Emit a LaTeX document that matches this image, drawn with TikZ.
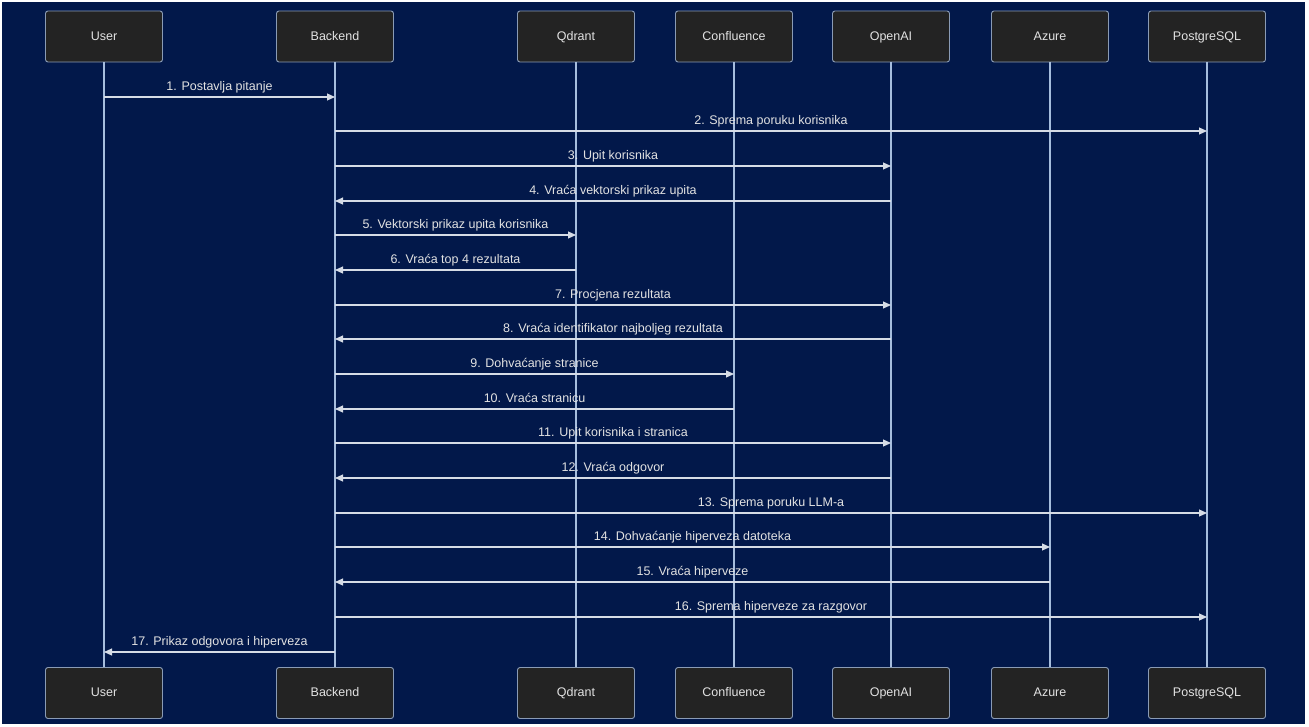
\documentclass[tikz,border=0pt]{standalone}
\usepackage{fontspec}
\setmainfont{Liberation Sans}
\usetikzlibrary{arrows.meta,calc}
\definecolor{bgnavy}{HTML}{02184A}
\definecolor{boxfill}{HTML}{232323}
\definecolor{boxline}{HTML}{8A9BB5}
\definecolor{lifecol}{HTML}{A6BDDD}
\definecolor{msgcol}{HTML}{D6DCE6}
\definecolor{txtcol}{HTML}{E2E2E2}
\tikzset{
  actor/.style={draw=boxline, fill=boxfill, rounded corners=2.5pt, line width=0.9pt,
    minimum width=117pt, minimum height=51pt, inner sep=0pt,
    text height=9.5pt, text depth=2.5pt,
    text=txtcol, font=\fontsize{12.5}{14}\selectfont},
  lifeline/.style={draw=lifecol, line width=1.1pt},
  msg/.style={draw=msgcol, line width=1.1pt, -{Triangle[length=8pt,width=7pt]}},
  lbl/.style={text=txtcol, font=\fontsize{12.5}{14}\selectfont, inner sep=0pt, anchor=base}
}
\newcommand{\msgline}[4]{%
  \coordinate (m#3a) at (#1top |- 0,#3);
  \coordinate (m#3b) at (#2top |- 0,#3);
  \draw[msg] (m#3a) -- (m#3b);
  \node[lbl] (l#3) at ($(m#3a)!0.5!(m#3b)+(0,-7)$) {#4};
}
\begin{document}
\begin{tikzpicture}[x=1pt,y=-1pt]
\useasboundingbox (0,0) rectangle (1309,726);
\fill[white] (0,0) rectangle (1309,726);
\fill[bgnavy] (2,2) rectangle (1305,724);
% actors
\foreach \n/\t/\x in {u/User/104, b/Backend/335, q/Qdrant/576, c/Confluence/734, o/OpenAI/891, a/Azure/1050, p/PostgreSQL/1207}{
  \node[actor] (\n top) at (\x,36.5) {\t};
  \node[actor] (\n bot) at (\x,693) {\t};
  \draw[lifeline] (\n top.south) -- (\n bot.north);
}
% messages
\msgline{u}{b}{97}{1. Postavlja pitanje}
\msgline{b}{p}{131}{2. Sprema poruku korisnika}
\msgline{b}{o}{166}{3. Upit korisnika}
\msgline{o}{b}{201}{4. Vraća vektorski prikaz upita}
\msgline{b}{q}{235}{5. Vektorski prikaz upita korisnika}
\msgline{q}{b}{270}{6. Vraća top 4 rezultata}
\msgline{b}{o}{305}{7. Procjena rezultata}
\msgline{o}{b}{339}{8. Vraća identifikator najboljeg rezultata}
\msgline{b}{c}{374}{9. Dohvaćanje stranice}
\msgline{c}{b}{409}{10. Vraća stranicu}
\msgline{b}{o}{443}{11. Upit korisnika i stranica}
\msgline{o}{b}{478}{12. Vraća odgovor}
\msgline{b}{p}{513}{13. Sprema poruku LLM-a}
\msgline{b}{a}{547}{14. Dohvaćanje hiperveza datoteka}
\msgline{a}{b}{582}{15. Vraća hiperveze}
\msgline{b}{p}{617}{16. Sprema hiperveze za razgovor}
\msgline{b}{u}{652}{17. Prikaz odgovora i hiperveza}
\end{tikzpicture}
\end{document}
